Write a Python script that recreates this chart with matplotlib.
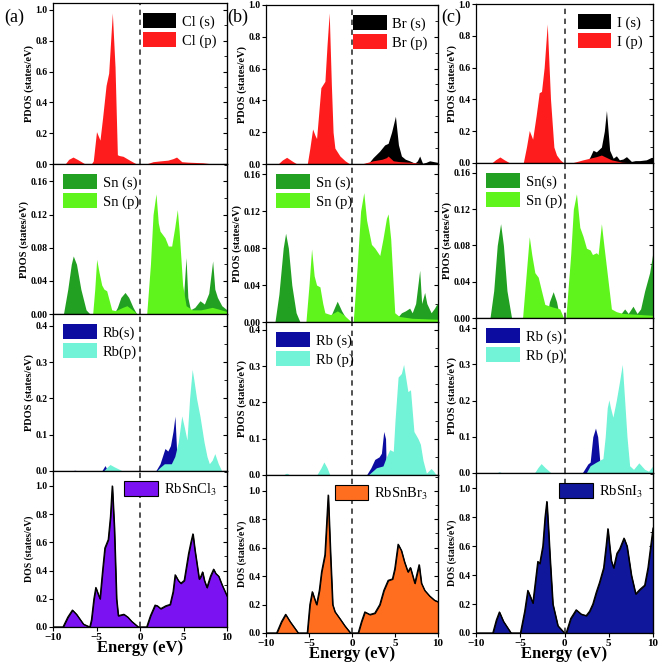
import matplotlib
matplotlib.use('Agg')
import matplotlib.pyplot as plt
from matplotlib.ticker import MultipleLocator

# ---------------- (a) RbSnCl3 ----------------
cl_s_e = [-10, -8.2, -7.7, -7.2, 1.0, 3.5, 4.2, 5.0, 10]
cl_s_v = [0, 0, 0.01, 0, 0, 0.01, 0.02, 0, 0]
cl_p_e = [-10, -8.6, -8.2, -7.7, -7.2, -6.3, -5.6, -5.37, -5.0, -4.6, -4.3, -3.9, -3.6, -3.18,
          -2.87, -2.6, -2.4, -1.95, -1.2, -0.4, 0.7, 1.5, 2.3, 3.2, 3.8, 4.2, 4.8, 5.5, 7.2, 8.4, 10]
cl_p_v = [0, 0, 0.03, 0.045, 0.03, 0, 0, 0.02, 0.21, 0.155, 0.3, 0.51, 0.59, 0.98,
          0.63, 0.06, 0.055, 0.05, 0.025, 0, 0, 0.015, 0.02, 0.025, 0.035, 0.045, 0.015, 0.012, 0.008, 0, 0]

sna_s_e = [-10, -8.8, -8.3, -7.9, -7.67, -7.3, -6.8, -6.2, -5.75, -3.0, -2.6, -2.2, -1.72, -1.3, -0.8,
           -0.38, 0.8, 2.0, 3.5, 4.6, 5.0, 5.29, 5.5, 5.8, 6.3, 6.9, 7.4, 7.9, 8.35, 8.6, 8.9, 9.4, 10]
sna_s_v = [0, 0, 0.03, 0.06, 0.07, 0.06, 0.03, 0.005, 0, 0, 0.008, 0.02, 0.026, 0.02, 0.008,
           0, 0, 0.005, 0.01, 0.01, 0.02, 0.068, 0.02, 0.005, 0.008, 0.016, 0.012, 0.025, 0.064, 0.03, 0.02, 0.01, 0.005]
sna_p_e = [-10, -5.44, -5.2, -4.98, -4.7, -4.4, -4.14, -3.83, -3.5, -3.25, -2.8, -2.0, -1.5, -1.0, -0.3,
           0.77, 1.2, 1.5, 1.84, 2.1, 2.3, 2.87, 3.25, 3.64, 4.0, 4.29, 4.5, 4.9, 5.3, 6.0, 7.0, 8.3, 9.0, 10]
sna_p_v = [0, 0, 0.03, 0.066, 0.05, 0.035, 0.03, 0.028, 0.015, 0.005, 0.004, 0.008, 0.01, 0.006, 0,
           0, 0.06, 0.12, 0.145, 0.11, 0.1, 0.092, 0.082, 0.082, 0.105, 0.126, 0.1, 0.035, 0.01, 0.005, 0.005, 0.008, 0.006, 0.003]

rba_s_e = [-10, -8, -7.5, -7, -4.4, -4.02, -3.7, 1.8, 2.3, 2.87, 3.2, 3.5, 3.8, 4.02, 4.2, 4.4, 10]
rba_s_v = [0, 0, 0.002, 0, 0, 0.015, 0, 0, 0.02, 0.062, 0.055, 0.07, 0.11, 0.151, 0.06, 0, 0]
rba_p_e = [-10, -4.2, -3.8, -3.45, -3.0, -2.0, 1.9, 2.3, 2.8, 3.6, 4.0, 4.4, 4.8, 5.1, 5.4, 5.7, 6.0,
           6.2, 6.5, 6.9, 7.36, 7.7, 7.97, 8.3, 8.6, 9.0, 9.4, 10]
rba_p_v = [0, 0, 0.01, 0.018, 0.012, 0, 0, 0.01, 0.02, 0.02, 0.04, 0.08, 0.152, 0.12, 0.085, 0.2, 0.28,
           0.25, 0.2, 0.15, 0.08, 0.04, 0.02, 0.03, 0.048, 0.02, 0, 0]

dos_cl_e = [-10, -8.85, -8.3, -7.77, -7.3, -6.5, -5.77, -5.58, -5.3, -5.08, -4.85, -4.6, -4.3, -4.04,
            -3.65, -3.4, -3.19, -2.95, -2.7, -2.5, -2.2, -1.85, -1.4, -0.96, -0.19, 0.77, 1.2, 1.73,
            2.0, 2.38, 2.96, 3.46, 3.8, 4.04, 4.4, 4.69, 5.08, 5.58, 5.85, 6.08, 6.3, 6.54, 6.8, 7.0,
            7.19, 7.4, 7.69, 8.1, 8.46, 8.7, 9.04, 9.42, 10]
dos_cl_v = [0, 0, 0.07, 0.12, 0.09, 0.02, 0, 0.05, 0.2, 0.28, 0.24, 0.2, 0.4, 0.56,
            0.62, 0.78, 1.0, 0.7, 0.2, 0.08, 0.085, 0.09, 0.07, 0.04, 0, 0, 0.08, 0.155,
            0.15, 0.13, 0.15, 0.16, 0.25, 0.37, 0.33, 0.31, 0.33, 0.52, 0.6, 0.66, 0.55, 0.45, 0.34, 0.36,
            0.39, 0.33, 0.28, 0.36, 0.41, 0.38, 0.36, 0.3, 0.22]

# ---------------- (b) RbSnBr3 ----------------
br_s_e = [-10, 1.3, 2.0, 2.45, 3.2, 3.8, 4.2, 4.6, 5.05, 5.4, 5.75, 6.2, 6.7, 7.3, 7.6, 7.87, 8.2,
          8.6, 9.03, 9.5, 10]
br_s_v = [0, 0, 0.01, 0.04, 0.08, 0.12, 0.13, 0.2, 0.3, 0.12, 0.05, 0.03, 0.02, 0.005, 0.02, 0.05, 0.005,
          0.01, 0.02, 0.015, 0.01]
br_p_e = [-10, -8.6, -8.1, -7.6, -7.0, -6.4, -5.2, -4.9, -4.58, -4.3, -4.12, -3.9, -3.62, -3.15, -2.9,
          -2.65, -2.4, -2.2, -1.99, -1.4, -0.8, -0.25, 1.1, 2.45, 3.5, 4.0, 4.2, 4.8, 5.5, 7.0, 8.5, 10]
br_p_v = [0, 0, 0.025, 0.042, 0.02, 0, 0, 0.1, 0.22, 0.18, 0.16, 0.3, 0.48, 0.52, 0.75,
          0.95, 0.5, 0.2, 0.1, 0.05, 0.02, 0, 0, 0.02, 0.03, 0.04, 0.05, 0.02, 0.015, 0.01, 0, 0]

snb_s_e = [-10, -8.96, -8.5, -8.0, -7.72, -7.4, -7.0, -6.5, -6.05, -2.77, -2.3, -1.72, -1.2, -0.45,
           4.9, 5.3, 5.75, 6.2, 6.7, 7.0, 7.4, 7.87, 8.1, 8.45, 8.7, 9.2, 9.6, 9.9, 10]
snb_s_v = [0, 0, 0.03, 0.08, 0.096, 0.08, 0.04, 0.01, 0, 0, 0.01, 0.0225, 0.012, 0,
           0, 0.005, 0.01, 0.012, 0.015, 0.01, 0.02, 0.056, 0.02, 0.032, 0.02, 0.01, 0.015, 0.02, 0.015]
snb_p_e = [-10, -5.36, -5.0, -4.7, -4.4, -4.12, -3.73, -3.4, -3.15, -2.5, -1.7, -1.0, -0.06, 0.14,
           0.6, 1.0, 1.37, 1.7, 2.26, 2.65, 3.23, 3.6, 4.0, 4.2, 4.5, 4.97, 5.5, 7.0, 10]
snb_p_v = [0, 0, 0.04, 0.079, 0.05, 0.04, 0.038, 0.02, 0.01, 0.008, 0.012, 0.008, 0, 0,
           0.06, 0.12, 0.14, 0.11, 0.084, 0.08, 0.072, 0.09, 0.112, 0.117, 0.09, 0.01, 0.006, 0.004, 0.003]

rbb_s_e = [-10, -8.0, -7.6, -7.2, 1.68, 2.2, 2.65, 3.15, 3.42, 3.69, 3.9, 4.0, 10]
rbb_s_v = [0, 0, 0.003, 0, 0, 0.02, 0.043, 0.05, 0.06, 0.12, 0.1, 0, 0]
rbb_p_e = [-10, -8.0, -7.6, -7.2, -4.1, -3.6, -3.27, -2.9, -2.57, 1.88, 2.84, 3.6, 4.0, 4.39, 4.8,
           5.0, 5.36, 5.74, 6.0, 6.5, 6.8, 7.2, 7.68, 7.95, 8.26, 8.65, 9.2, 9.5, 9.8, 10]
rbb_p_v = [0, 0, 0.005, 0, 0, 0.02, 0.036, 0.02, 0, 0, 0.02, 0.025, 0.05, 0.07, 0.065,
           0.15, 0.27, 0.28, 0.305, 0.23, 0.235, 0.12, 0.1, 0.085, 0.04, 0.005, 0.018, 0.01, 0, 0]

dos_br_e = [-10, -8.76, -8.2, -7.72, -7.2, -6.25, -5.2, -4.9, -4.62, -4.35, -4.12, -3.8, -3.54, -3.15,
            -2.77, -2.5, -2.25, -1.99, -1.4, -0.83, -0.17, 0.72, 1.1, 1.49, 2.07, 2.65, 3.23, 3.7,
            4.2, 4.7, 4.97, 5.36, 5.74, 6.1, 6.5, 6.79, 7.3, 7.8, 8.07, 8.45, 9.03, 9.6, 10]
dos_br_v = [0, 0, 0.08, 0.131, 0.08, 0, 0, 0.2, 0.29, 0.24, 0.2, 0.3, 0.43, 0.55,
            0.97, 0.55, 0.2, 0.15, 0.1, 0.05, 0, 0, 0.08, 0.148, 0.13, 0.14, 0.2, 0.3,
            0.37, 0.38, 0.45, 0.624, 0.58, 0.5, 0.43, 0.46, 0.35, 0.48, 0.35, 0.3, 0.26, 0.23, 0.22]

# ---------------- (c) RbSnI3 ----------------
i_s_e = [-10, 2.48, 2.9, 3.23, 3.6, 4.17, 4.5, 4.74, 5.1, 5.5, 5.86, 6.2, 6.6, 7.0, 7.56, 8.0, 8.5,
         9.25, 9.8, 10]
i_s_v = [0, 0, 0.04, 0.08, 0.07, 0.1, 0.2, 0.33, 0.08, 0.03, 0.045, 0.02, 0.025, 0.04, 0.01, 0.015, 0.015,
         0.02, 0.035, 0.035]
i_p_e = [-10, -8.23, -7.8, -7.3, -6.8, -6.17, -4.66, -4.3, -3.98, -3.6, -3.2, -2.86, -2.6, -2.3, -1.95,
         -1.58, -1.2, -0.9, -0.5, -0.08, 0.79, 2.1, 3.6, 4.17, 5.3, 6.5, 8.0, 10]
i_p_v = [0, 0, 0.02, 0.038, 0.02, 0, 0, 0.1, 0.204, 0.15, 0.3, 0.442, 0.45, 0.6, 0.874,
         0.4, 0.1, 0.05, 0.02, 0, 0, 0.02, 0.04, 0.05, 0.02, 0.005, 0, 0]

snc_s_e = [-10, -8.42, -8.0, -7.6, -7.22, -6.9, -6.5, -5.98, -2.03, -1.7, -1.28, -0.9, -0.53, 5.3,
           5.86, 6.4, 6.8, 7.2, 7.74, 8.2, 8.6, 9.06, 9.62, 10]
snc_s_v = [0, 0, 0.03, 0.08, 0.104, 0.08, 0.03, 0, 0, 0.018, 0.029, 0.018, 0, 0,
           0.005, 0.005, 0.01, 0.005, 0.013, 0.005, 0.01, 0.03, 0.05, 0.073]
snc_p_e = [-10, -4.74, -4.4, -3.98, -3.7, -3.35, -2.97, -2.6, -2.22, -1.3, -0.53, -0.1, 0.15, 0.7,
           1.0, 1.35, 1.73, 2.1, 2.48, 2.9, 3.16, 3.6, 3.8, 4.17, 4.45, 5.3, 5.86, 6.6, 10]
snc_p_v = [0, 0, 0.04, 0.0897, 0.07, 0.05, 0.045, 0.03, 0.015, 0.012, 0.01, 0, 0, 0.07,
           0.12, 0.137, 0.1, 0.09, 0.077, 0.075, 0.07, 0.072, 0.07, 0.104, 0.08, 0.01, 0.007, 0.005, 0.003]

rbc_s_e = [-10, -7.8, -7.36, -7.0, 2.0, 2.64, 2.9, 3.2, 3.5, 3.75, 3.96, 4.1, 10]
rbc_s_v = [0, 0, 0.002, 0, 0, 0.025, 0.03, 0.1, 0.124, 0.1, 0.04, 0, 0]
rbc_p_e = [-10, -7.8, -7.36, -7.0, -3.4, -3.0, -2.64, -2.2, -1.5, 2.45, 2.9, 3.58, 4.34, 4.6, 4.83,
           5.02, 5.2, 5.47, 5.85, 6.2, 6.53, 6.8, 7.06, 7.36, 7.8, 8.4, 9.06, 9.5, 10]
rbc_p_v = [0, 0, 0.003, 0, 0, 0.015, 0.026, 0.015, 0, 0, 0.02, 0.03, 0.04, 0.1, 0.18,
           0.202, 0.18, 0.154, 0.2, 0.25, 0.3, 0.2, 0.1, 0.02, 0.01, 0.028, 0.01, 0.005, 0.02]

dos_i_e = [-10, -8.1, -7.7, -7.36, -6.9, -6.04, -4.98, -4.5, -4.15, -3.85, -3.58, -3.3, -3.02, -2.8,
           -2.45, -2.2, -2.0, -1.8, -1.62, -1.32, -0.75, 0.0, 0.19, 0.7, 1.32, 1.89, 2.45, 2.83, 3.2,
           3.58, 3.96, 4.42, 4.7, 4.9, 5.1, 5.28, 5.55, 5.92, 6.23, 6.72, 7.06, 7.55, 8.04, 8.5, 9.06,
           9.43, 10]
dos_i_v = [0, 0, 0.09, 0.145, 0.08, 0, 0, 0.15, 0.294, 0.25, 0.207, 0.35, 0.494, 0.48,
           0.6, 0.8, 0.908, 0.7, 0.5, 0.2, 0.05, 0, 0, 0.1, 0.16, 0.13, 0.12, 0.15, 0.2,
           0.28, 0.35, 0.45, 0.6, 0.72, 0.6, 0.5, 0.45, 0.55, 0.58, 0.655, 0.6, 0.4, 0.27, 0.3, 0.33,
           0.45, 0.724]

red = '#ff1c1c'
dkgreen = '#22a022'
ltgreen = '#5ff51c'
navy = '#0c0ca0'
aqua = '#72f2d6'

panels = [
    [[(cl_s_e, cl_s_v, 'black', 'Cl (s)'), (cl_p_e, cl_p_v, red, 'Cl (p)')],
     [(sna_s_e, sna_s_v, dkgreen, 'Sn (s)'), (sna_p_e, sna_p_v, ltgreen, 'Sn (p)')],
     [(rba_s_e, rba_s_v, navy, 'Rb(s)'), (rba_p_e, rba_p_v, aqua, 'Rb(p)')],
     [(dos_cl_e, dos_cl_v, '#7b12f2', 'RbSnCl$_3$')]],
    [[(br_s_e, br_s_v, 'black', 'Br (s)'), (br_p_e, br_p_v, red, 'Br (p)')],
     [(snb_s_e, snb_s_v, dkgreen, 'Sn (s)'), (snb_p_e, snb_p_v, ltgreen, 'Sn (p)')],
     [(rbb_s_e, rbb_s_v, navy, 'Rb (s)'), (rbb_p_e, rbb_p_v, aqua, 'Rb (p)')],
     [(dos_br_e, dos_br_v, '#ff6d1f', 'RbSnBr$_3$')]],
    [[(i_s_e, i_s_v, 'black', 'I (s)'), (i_p_e, i_p_v, red, 'I (p)')],
     [(snc_s_e, snc_s_v, dkgreen, 'Sn(s)'), (snc_p_e, snc_p_v, ltgreen, 'Sn (p)')],
     [(rbc_s_e, rbc_s_v, navy, 'Rb (s)'), (rbc_p_e, rbc_p_v, aqua, 'Rb (p)')],
     [(dos_i_e, dos_i_v, '#10179a', 'RbSnI$_3$')]],
]

plt.rcParams['font.family'] = 'Liberation Serif'
plt.rcParams['mathtext.fontset'] = 'stix'

W, H = 661.0, 663.0
fig = plt.figure(figsize=(6.61, 6.63), dpi=100)

# pixel geometry per column: left, right, row edges (top to bottom)
cols = [(53, 227, [3, 164, 314, 471, 627]),
        (266, 438, [5, 164, 322, 475, 633]),
        (476, 653, [4, 163, 318, 473, 633])]
ylims = [[1.045, 0.181, 0.433, 1.106],
         [1.0, 0.171, 0.422, 1.111],
         [1.0, 0.171, 0.428, 1.105]]
ysteps = [0.2, 0.04, 0.1, 0.2]
legloc = ['upper right', 'upper left', 'upper left', 'upper right']

for c in range(3):
    left, right, edges = cols[c]
    for r in range(4):
        top, bot = edges[r], edges[r + 1]
        ax = fig.add_axes([left / W, 1 - bot / H, (right - left) / W, (bot - top) / H])
        for e, v, col, lab in panels[c][r]:
            if r == 3:
                ax.fill_between(e, v, color=col, edgecolor='black', lw=0.8, label=lab)
                ax.plot(e, v, color='black', lw=0.9)
            else:
                ax.fill_between(e, v, color=col, lw=0, label=lab)
        ax.axvline(0, color='#222222', ls=(0, (3.5, 3)), lw=1.1)
        ax.set_xlim(-10, 10)
        ax.set_ylim(0, ylims[c][r])
        ax.xaxis.set_major_locator(MultipleLocator(5))
        ax.yaxis.set_major_locator(MultipleLocator(ysteps[r]))
        ax.tick_params(axis='y', direction='out', length=3, width=0.8, labelsize=7, pad=1)
        ax.tick_params(axis='x', direction='out', length=3, width=0.8, labelsize=8, pad=1)
        sec = ax.secondary_yaxis('right')
        sec.yaxis.set_major_locator(MultipleLocator(ysteps[r]))
        sec.yaxis.set_minor_locator(MultipleLocator(ysteps[r] / 2))
        sec.tick_params(which='major', direction='in', length=3, width=0.8, labelright=False)
        sec.tick_params(which='minor', direction='in', length=2, width=0.6)
        for sp in ax.spines.values():
            sp.set_linewidth(0.9)
        plt.setp(ax.get_yticklabels(), fontweight='bold')
        if r == 3:
            plt.setp(ax.get_xticklabels(), fontweight='bold')
            ax.set_ylabel('DOS (states/eV)', fontsize=7, fontweight='bold', labelpad=1)
            ax.set_xlabel('Energy (eV)', fontsize=12, fontweight='bold', labelpad=-1)
        else:
            ax.tick_params(labelbottom=False)
            ax.set_ylabel('PDOS (states/eV)', fontsize=7.5, fontweight='bold', labelpad=1)
        ax.legend(loc=legloc[r], frameon=False, fontsize=10.5, handlelength=2.3,
                  handleheight=1.2, handletextpad=0.4, labelspacing=0.25,
                  borderaxespad=0.3)

fig.text(4 / W, 1 - 17 / H, '(a)', fontsize=13, va='center')
fig.text(227 / W, 1 - 17 / H, '(b)', fontsize=13, va='center')
fig.text(441 / W, 1 - 17 / H, '(c)', fontsize=13, va='center')

plt.savefig('out.png', dpi=100)
